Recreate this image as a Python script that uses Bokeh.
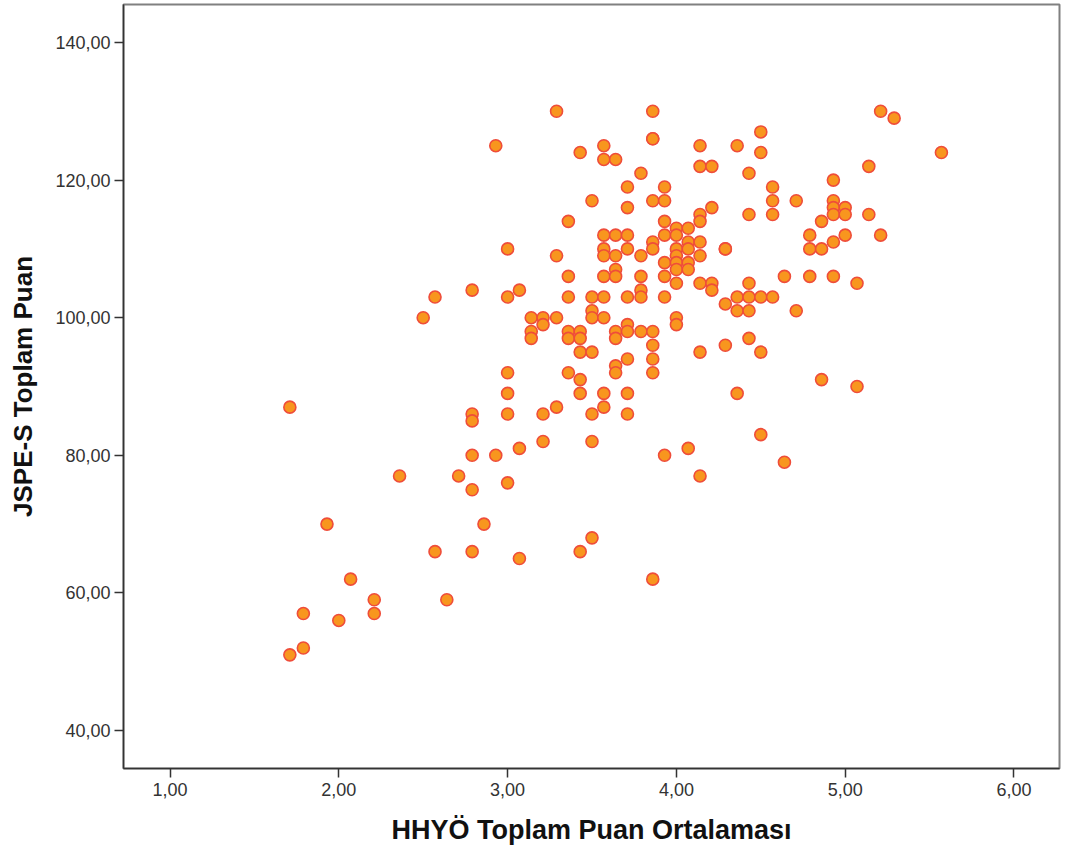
from bokeh.plotting import figure
from bokeh.models import Range1d, FixedTicker, CustomJSTickFormatter, ColumnDataSource
from bokeh.embed import file_html
from bokeh.resources import INLINE

# HHYÖ Toplam Puan Ortalaması (x) and JSPE-S Toplam Puan (y)
hhyo = [
    1.71, 1.71, 1.79, 1.79, 1.93, 2.00, 2.07, 2.21, 2.21, 2.36, 2.50, 2.57, 2.57, 2.64, 2.71,
    2.79, 2.79, 2.79, 2.79, 2.79, 2.79, 2.86, 2.93, 2.93,
    3.00, 3.00, 3.00, 3.00, 3.00, 3.00, 3.07, 3.07, 3.07, 3.14, 3.14, 3.14,
    3.21, 3.21, 3.21, 3.21, 3.29, 3.29, 3.29, 3.29,
    3.36, 3.36, 3.36, 3.36, 3.36, 3.36,
    3.43, 3.43, 3.43, 3.43, 3.43, 3.43, 3.43,
    3.50, 3.50, 3.50, 3.50, 3.50, 3.50, 3.50, 3.50,
    3.57, 3.57, 3.57, 3.57, 3.57, 3.57, 3.57, 3.57, 3.57, 3.57,
    3.64, 3.64, 3.64, 3.64, 3.64, 3.64, 3.64, 3.64, 3.64,
    3.71, 3.71, 3.71, 3.71, 3.71, 3.71, 3.71, 3.71, 3.71, 3.71,
    3.79, 3.79, 3.79, 3.79, 3.79, 3.79,
    3.86, 3.86, 3.86, 3.86, 3.86, 3.86, 3.86, 3.86, 3.86, 3.86, 3.86,
    3.93, 3.93, 3.93, 3.93, 3.93, 3.93, 3.93, 3.93,
    4.00, 4.00, 4.00, 4.00, 4.00, 4.00, 4.00, 4.00, 4.00,
    4.07, 4.07, 4.07, 4.07, 4.07, 4.07,
    4.14, 4.14, 4.14, 4.14, 4.14, 4.14, 4.14, 4.14, 4.14,
    4.21, 4.21, 4.21, 4.21,
    4.29, 4.29, 4.29, 4.29,
    4.36, 4.36, 4.36, 4.36,
    4.43, 4.43, 4.43, 4.43, 4.43, 4.43,
    4.50, 4.50, 4.50, 4.50, 4.50,
    4.57, 4.57, 4.57, 4.57,
    4.64, 4.64, 4.71, 4.71,
    4.79, 4.79, 4.79, 4.86, 4.86, 4.86,
    4.93, 4.93, 4.93, 4.93, 4.93, 4.93,
    5.00, 5.00, 5.00, 5.07, 5.07, 5.14, 5.14, 5.21, 5.21, 5.29, 5.57,
]
jspe = [
    87, 51, 57, 52, 70, 56, 62, 59, 57, 77, 100, 103, 66, 59, 77,
    104, 86, 85, 80, 75, 66, 70, 125, 80,
    110, 103, 92, 89, 86, 76, 104, 81, 65, 100, 98, 97,
    100, 99, 86, 82, 130, 109, 100, 87,
    114, 106, 103, 98, 97, 92,
    124, 98, 97, 95, 91, 89, 66,
    117, 103, 101, 100, 95, 86, 82, 68,
    125, 123, 112, 110, 109, 106, 103, 100, 89, 87,
    123, 112, 109, 107, 106, 98, 97, 93, 92,
    119, 116, 112, 110, 103, 99, 98, 94, 89, 86,
    121, 109, 106, 104, 103, 98,
    130, 126, 126, 117, 111, 110, 98, 96, 94, 92, 62,
    119, 117, 114, 112, 108, 106, 103, 80,
    113, 112, 110, 109, 108, 107, 105, 100, 99,
    113, 111, 110, 108, 107, 81,
    125, 122, 115, 114, 111, 109, 105, 95, 77,
    122, 116, 105, 104,
    110, 110, 102, 96,
    125, 103, 101, 89,
    121, 115, 105, 103, 101, 97,
    127, 124, 103, 95, 83,
    119, 117, 115, 103,
    106, 79, 117, 101,
    112, 110, 106, 114, 110, 91,
    120, 117, 116, 115, 111, 106,
    116, 115, 112, 105, 90, 122, 115, 130, 112, 129, 124,
]
x_ticks = [1, 2, 3, 4, 5, 6]
y_ticks = [40, 60, 80, 100, 120, 140]
x_title = "HHYÖ Toplam Puan Ortalaması"
y_title = "JSPE-S Toplam Puan"

src = ColumnDataSource(dict(x=hhyo, y=jspe))

p = figure(width=1062, height=852, output_backend="svg", toolbar_location=None,
           x_range=Range1d(0.7245, 6.2696), y_range=Range1d(34.48, 145.52),
           min_border_left=123, min_border_right=3, min_border_top=4, min_border_bottom=84,
           background_fill_color="white", border_fill_color="white")

p.scatter("x", "y", source=src, marker="circle", size=12,
          fill_color="#F8961E", line_color="#EF4D3A", line_width=1.6)

p.xgrid.visible = False
p.ygrid.visible = False
p.outline_line_color = "#808080"
p.outline_line_width = 2

fmt = CustomJSTickFormatter(code="return tick.toFixed(2).replace('.', ',');")
for ax, ticks, title in ((p.xaxis[0], x_ticks, x_title), (p.yaxis[0], y_ticks, y_title)):
    ax.ticker = FixedTicker(ticks=ticks)
    ax.formatter = fmt
    ax.minor_tick_line_color = None
    ax.major_tick_in = 0
    ax.major_tick_out = 9
    ax.major_tick_line_color = "#333333"
    ax.major_tick_line_width = 1.5
    ax.axis_line_color = "#333333"
    ax.axis_line_width = 1.5
    ax.major_label_text_font = "Liberation Sans"
    ax.major_label_text_font_size = "18px"
    ax.major_label_text_color = "#333333"
    ax.axis_label = title
    ax.axis_label_text_font = "Liberation Sans"
    ax.axis_label_text_font_style = "bold"
    ax.axis_label_text_font_size = "26px"
    ax.axis_label_text_color = "#111111"

p.xaxis.axis_label_text_font_size = "27px"
p.xaxis.major_label_standoff = 5
p.xaxis.axis_label_standoff = 16
p.yaxis.major_label_standoff = 4
p.yaxis.axis_label_standoff = 14

open("out.html", "w").write(file_html(p, INLINE))
